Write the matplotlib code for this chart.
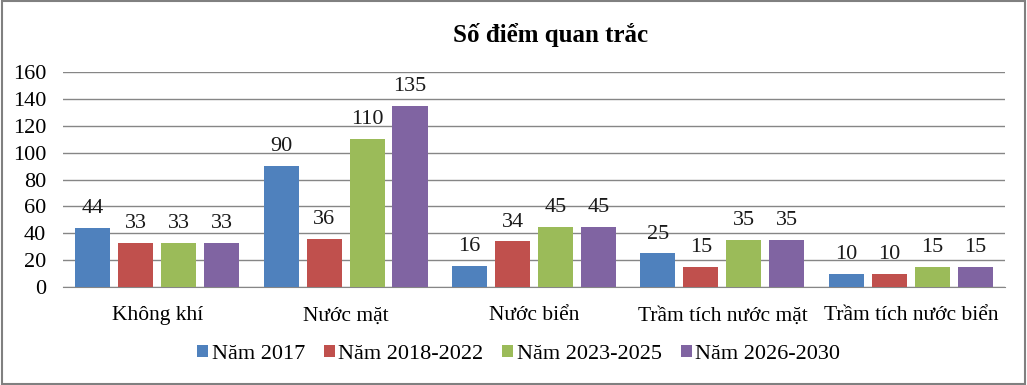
import unicodedata
import numpy as np
import matplotlib.pyplot as plt
from matplotlib.patches import Rectangle
from matplotlib.transforms import blended_transform_factory

categories = ['Không khí', 'Nước mặt', 'Nước biển', 'Trầm tích nước mặt', 'Trầm tích nước biển']
series_names = ['Năm 2017', 'Năm 2018-2022', 'Năm 2023-2025', 'Năm 2026-2030']
values = [
    [44, 90, 16, 25, 10],
    [33, 36, 34, 15, 10],
    [33, 110, 45, 35, 15],
    [33, 135, 45, 35, 15],
]
colors = ['#4F81BD', '#C0504D', '#9BBB59', '#8064A2']
yticks = [0, 20, 40, 60, 80, 100, 120, 140, 160]

plt.rcParams['font.family'] = ['Liberation Serif', 'DejaVu Serif']

fig = plt.figure(figsize=(10.27, 3.85), dpi=100)
ax = fig.add_axes([0.0613, 0.2545, 0.9173, 0.5585])

# border around the whole chart
fig.patches.append(Rectangle((0.002, 0.003), 0.996, 0.994, transform=fig.transFigure,
                             fill=False, edgecolor='#808080', linewidth=1.5))

x = np.arange(len(categories))
step = 0.228
width = 0.186
for i, (name, vals) in enumerate(zip(series_names, values)):
    pos = x + (i - 1.5) * step
    bars = ax.bar(pos, vals, width, color=colors[i], label=unicodedata.normalize('NFC', name), zorder=3)
    for b, v in zip(bars, vals):
        ax.annotate(str(v), (b.get_x() + b.get_width() / 2, v), xytext=(0, 7),
                    textcoords='offset points', ha='center', va='bottom',
                    fontsize=16, color='#1a1a1a')

ax.set_xlim(-0.5, len(categories) - 0.5)
ax.set_ylim(0, 160)
ax.set_yticks(yticks)
ax.set_xticks(x)
ax.set_xticklabels([])
# category labels on a common baseline
trans = blended_transform_factory(ax.transData, ax.transAxes)
for xi, cat in zip(x, categories):
    ax.text(xi, -0.155, unicodedata.normalize('NFC', cat), transform=trans,
            ha='center', va='baseline', fontsize=15.5)
ax.tick_params(axis='y', labelsize=16, length=0, pad=12)
ax.tick_params(axis='x', length=0)
ax.grid(axis='y', color='#868686', linewidth=1, zorder=0)
for s in ['top', 'right', 'left']:
    ax.spines[s].set_visible(False)
ax.spines['bottom'].set_color('#868686')

fig.text(0.536, 0.91, unicodedata.normalize('NFC', 'Số điểm quan trắc'), ha='center', va='center',
         fontsize=18, fontweight='bold')

fig.legend(loc='center', bbox_to_anchor=(0.505, 0.08), ncol=4, frameon=False, fontsize=16,
           handlelength=0.5, handleheight=0.5, handletextpad=0.15, columnspacing=0.85)

fig.savefig('out.png', dpi=100)
